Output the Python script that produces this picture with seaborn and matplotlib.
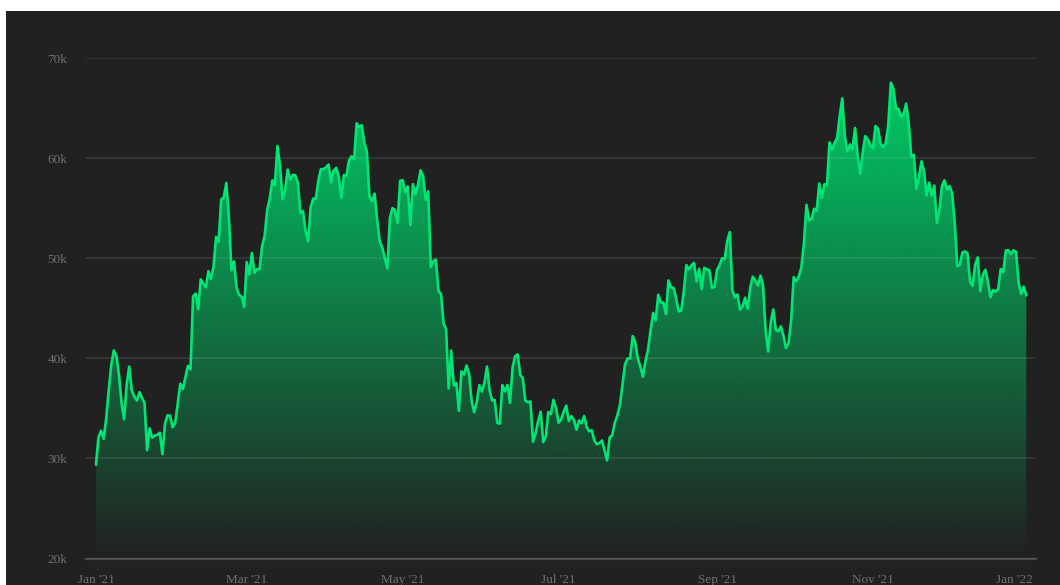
import numpy as np
import pandas as pd
import matplotlib
matplotlib.use("Agg")
import matplotlib.pyplot as plt
import matplotlib.dates as mdates
import seaborn as sns
from matplotlib.patches import Rectangle
from matplotlib.transforms import ScaledTranslation

# daily closing price, 2021-01-01 .. 2021-12-31
jan = [29374, 32127, 32782, 31971, 33992, 36824, 39371, 40797, 40254, 38356, 35566, 33922, 37316, 39187, 36825, 36178,
       35792, 36630, 36069, 35547, 30825, 33005, 32067, 32289, 32366, 32569, 30432, 33466, 34316, 34269, 33114]
feb = [33537, 35510, 37472, 36926, 38144, 39266, 38903, 46196, 46481, 44918, 47909, 47504, 47105, 48717, 47945, 49199,
       52149, 51679, 55888, 56099, 57539, 54207, 48824, 49705, 47093, 46339, 46188, 45137]
mar = [49631, 48378, 50538, 48561, 48927, 48912, 51206, 52246, 54824, 56008, 57805, 57332, 61243, 59302, 55907, 56804,
       58870, 57858, 58346, 58313, 57523, 54529, 54738, 52774, 51704, 55137, 55973, 55950, 57750, 58917, 58918]
apr = [59095, 59384, 57603, 58758, 59057, 58192, 56048, 58323, 58245, 59793, 60204, 59893, 63503, 63109, 63314, 61572,
       60683, 56216, 55724, 56473, 53906, 51762, 51093, 50050, 49004, 54021, 55033, 54824, 53555, 57750]
may = [57828, 56631, 57200, 53333, 57424, 56396, 57356, 58803, 58232, 55859, 56704, 49150, 49716, 49880, 46760, 46456,
       43537, 42909, 37002, 40782, 37304, 37536, 34770, 38705, 38402, 39294, 38436, 35697, 34616, 35678, 37332]
jun = [36684, 37575, 39188, 36825, 35791, 35849, 33560, 33472, 37345, 36702, 37335, 35552, 39098, 40218, 40407, 38347,
       38053, 35787, 35615, 35698, 31676, 32505, 33723, 34662, 31637, 32186, 34649, 34434, 35867, 35040]
jul = [33572, 33897, 34668, 35287, 33746, 34235, 33855, 32877, 33798, 33520, 34240, 33155, 32702, 32822, 31780, 31421,
       31533, 31796, 30817, 29807, 32110, 32313, 33581, 34292, 35350, 37337, 39406, 39995, 40008, 42235, 41626]
aug = [39974, 39201, 38152, 39747, 40869, 42816, 44555, 43798, 46365, 45585, 45593, 44428, 47793, 47096, 47047, 46004,
       44695, 44801, 46717, 49339, 48905, 49321, 49546, 47706, 48960, 46942, 49058, 48902, 48829, 47054, 47166]
sep = [48847, 49327, 50025, 49944, 51753, 52633, 46811, 46091, 46391, 44883, 45201, 46063, 44963, 47092, 48176, 47783,
       47267, 48278, 47260, 42844, 40693, 43574, 44896, 42840, 42716, 43208, 42235, 41034, 41564, 43790]
oct_ = [48116, 47711, 48199, 49112, 51514, 55361, 53805, 53967, 54968, 54771, 57484, 56041, 57401, 57321, 61593, 60892,
        61553, 62026, 64262, 65992, 62210, 60692, 61393, 60930, 63039, 60363, 58482, 60622, 62228, 61888, 61318]
nov = [61004, 63226, 62970, 61452, 61125, 61527, 63327, 67566, 66971, 64995, 64949, 64155, 64469, 65466, 63557, 60161,
       60368, 56942, 58119, 59697, 58730, 56289, 57569, 56281, 57274, 53569, 54815, 57248, 57806, 56907]
dec = [57229, 56477, 53598, 49200, 49368, 50582, 50700, 50504, 47672, 47243, 49362, 50098, 46737, 48379, 48864, 47632,
       46131, 46834, 46681, 46914, 48937, 48628, 50784, 50822, 50429, 50809, 50640, 47588, 46444, 47178, 46306]
prices = jan + feb + mar + apr + may + jun + jul + aug + sep + oct_ + nov + dec
start_date = "2021-01-01"

tick_dates = ["2021-01-01", "2021-03-01", "2021-05-01", "2021-07-01", "2021-09-01", "2021-11-01", "2022-01-01"]
tick_labels = ["Jan '21", "Mar '21", "May '21", "Jul '21", "Sep '21", "Nov '21", "Jan '22"]
y_ticks = [20000, 30000, 40000, 50000, 60000, 70000]
y_labels = ["20k", "30k", "40k", "50k", "60k", "70k"]

df = pd.DataFrame({"date": pd.date_range(start_date, periods=len(prices)), "price": prices})

sns.set_style("dark")
plt.rcParams["font.family"] = ["Liberation Serif", "DejaVu Serif"]

BG = "#212121"
W, H = 1060, 585
fig = plt.figure(figsize=(W / 100, H / 100), dpi=100, facecolor="white")
fig.add_artist(Rectangle((6 / W, 0), 1 - 6 / W, (H - 11) / H, transform=fig.transFigure,
                         facecolor=BG, edgecolor="none", zorder=0))
ax = fig.add_axes([86 / W, 26.5 / H, 950 / W, (558.5 - 58.3) / H])
ax.set_facecolor(BG)

sns.lineplot(data=df, x="date", y="price", color="#00e676", lw=1.9, ax=ax, zorder=3)

# gradient fill under the line
xn = mdates.date2num(df["date"])
poly = ax.fill_between(xn, df["price"], 20000, facecolor="none", lw=0)
grad = np.zeros((256, 1, 4))
grad[..., 0] = 0 / 255
grad[..., 1] = 204 / 255
grad[..., 2] = 102 / 255
grad[:, 0, 3] = np.linspace(1, 0, 256)
im = ax.imshow(grad, aspect="auto", origin="upper",
               extent=[xn[0], xn[-1], 20000, max(prices)], zorder=2)
im.set_clip_path(poly.get_paths()[0], transform=ax.transData)

d0 = mdates.date2num(pd.Timestamp(start_date))
ax.set_xlim(d0 - 3.9, d0 + 367.8)
ax.set_ylim(20000, 70000)

ax.set_yticks(y_ticks)
ax.set_yticklabels(y_labels)
ax.set_xticks(mdates.date2num(pd.to_datetime(tick_dates)))
ax.set_xticklabels(tick_labels)
ax.set_xlabel("")
ax.set_ylabel("")

ax.set_axisbelow(False)
ax.yaxis.grid(True, color="white", alpha=0.1, lw=1.2)
ax.xaxis.grid(False)
for s in ["top", "left", "right"]:
    ax.spines[s].set_visible(False)
ax.spines["bottom"].set_color("#4a4a4a")
ax.spines["bottom"].set_linewidth(1.6)

ax.tick_params(axis="y", length=0, pad=13.5, labelsize=9.5, labelcolor="#6f6f6f")
ax.tick_params(axis="x", length=0, pad=11, labelsize=9.5, labelcolor="#6f6f6f")

# last label is pulled inward so it stays in the plot area
last = ax.get_xticklabels()[-1]
last.set_transform(last.get_transform() + ScaledTranslation(-14 / 100, 0, fig.dpi_scale_trans))

fig.savefig("out.png", dpi=100, facecolor="white")
